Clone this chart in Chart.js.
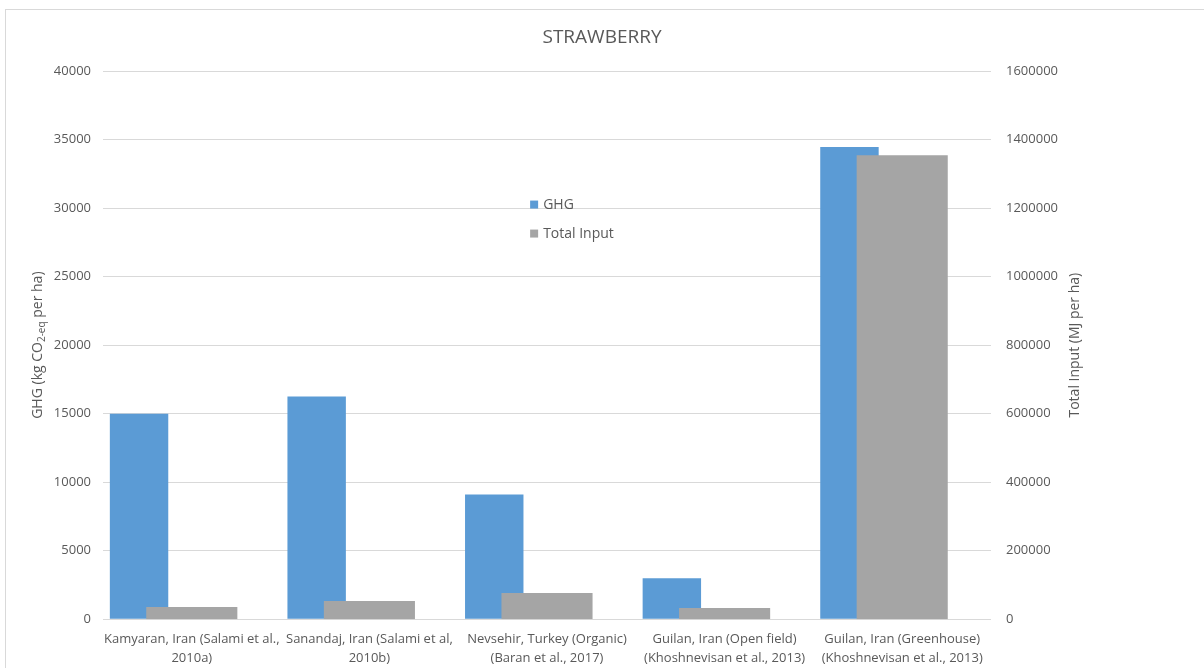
<!DOCTYPE html>
<html>
<head>
<meta charset="utf-8">
<title>Strawberry</title>
<script src="https://cdn.jsdelivr.net/npm/chart.js@4.4.1/dist/chart.umd.min.js"></script>
<style>
  html, body { margin: 0; padding: 0; background: #fff; overflow: hidden; }
  #wrap { position: relative; width: 1204px; height: 668px; }
  #frame {
    position: absolute; left: 5px; top: 9px; width: 1300px; height: 800px;
    border: 1px solid #d9d9d9; pointer-events: none;
  }
</style>
</head>
<body>
<div id="wrap">
  <canvas id="strawberryChart"></canvas>
  <div id="frame"></div>
</div>
<script>
const categories = [
  ['Kamyaran, Iran (Salami et al.,', '2010a)'],
  ['Sanandaj, Iran (Salami et al,', '2010b)'],
  ['Nevsehir, Turkey (Organic)', '(Baran et al., 2017)'],
  ['Guilan, Iran (Open field)', '(Khoshnevisan et al., 2013)'],
  ['Guilan, Iran (Greenhouse)', '(Khoshnevisan et al., 2013)'],
];
const ghg = [15000, 16250, 9100, 3000, 34450];            // kg CO2-eq per ha
const totalInput = [35800, 53300, 76600, 32900, 1354000]; // MJ per ha

const TEXT = '#595959';
const FONT = '"Open Sans", "Noto Sans", sans-serif';

// rotated axis title, parts = [text, size, baseline shift]
function drawRotated(ctx, x, y, parts) {
  ctx.save();
  ctx.translate(x, y);
  ctx.rotate(-Math.PI / 2);
  ctx.textBaseline = 'middle';
  ctx.textAlign = 'left';
  const widths = parts.map(([t, size]) => {
    ctx.font = size + 'px ' + FONT;
    return ctx.measureText(t).width;
  });
  let cx = -widths.reduce((a, b) => a + b, 0) / 2;
  parts.forEach(([t, size, dy], i) => {
    ctx.font = size + 'px ' + FONT;
    ctx.fillText(t, cx, dy);
    cx += widths[i];
  });
  ctx.restore();
}

const extras = {
  id: 'extras',
  afterDraw(chart) {
    const { ctx, chartArea: a } = chart;
    const midY = (a.top + a.bottom) / 2;
    ctx.save();
    ctx.fillStyle = TEXT;
    drawRotated(ctx, 38, midY, [['GHG (kg CO', 14, 0], ['2-eq', 10, 4], [' per ha)', 14, 0]]);
    drawRotated(ctx, 1075, midY, [['Total Input (MJ per ha)', 14, 0]]);

    // legend, stacked inside the plot
    const lx = a.left + a.width * 0.481;
    let ly = a.top + a.height * 0.2436;
    ctx.font = '14px ' + FONT;
    ctx.textBaseline = 'middle';
    ctx.textAlign = 'left';
    chart.data.datasets.forEach((ds) => {
      ctx.fillStyle = ds.backgroundColor;
      ctx.fillRect(lx, ly - 4, 8, 8);
      ctx.fillStyle = TEXT;
      ctx.fillText(ds.label, lx + 13, ly);
      ly += 29;
    });
    ctx.restore();
  },
};

const tickFont = { family: FONT, size: 13 };

new Chart(document.getElementById('strawberryChart'), {
  type: 'bar',
  data: {
    labels: categories,
    datasets: [
      {
        label: 'GHG',
        data: ghg.map((v, i) => ({ x: i, y: v })),
        backgroundColor: '#5b9bd5',
        xAxisID: 'xg',
        yAxisID: 'y',
        grouped: false,
        categoryPercentage: 0.329,
        barPercentage: 1,
        order: 1,
      },
      {
        label: 'Total Input',
        data: totalInput,
        backgroundColor: '#a5a5a5',
        xAxisID: 'x',
        yAxisID: 'y1',
        grouped: false,
        categoryPercentage: 1,
        barPercentage: 0.513,
        order: 0,
      },
    ],
  },
  options: {
    responsive: true,
    maintainAspectRatio: false,
    animation: false,
    layout: { padding: 0 },
    plugins: {
      legend: { display: false },
      tooltip: { enabled: false },
      title: {
        display: true,
        text: 'STRAWBERRY',
        color: TEXT,
        font: { family: FONT, size: 19, weight: 'normal' },
        padding: { top: 26, bottom: 22.2 },
      },
    },
    scales: {
      x: {
        type: 'category',
        offset: true,
        grid: { display: false },
        border: { display: false },
        ticks: {
          color: TEXT,
          font: { family: FONT, size: 13, lineHeight: 1.45 },
          maxRotation: 0,
          autoSkip: false,
          padding: 3,
        },
        afterFit: (s) => { s.height = 48.7; },
      },
      // GHG bars sit left of each category centre
      xg: {
        type: 'linear',
        display: false,
        offset: false,
        min: -0.203,
        max: 4.797,
        ticks: { count: 2 },
        grid: { display: false },
      },
      y: {
        position: 'left',
        min: 0,
        max: 40000,
        ticks: { stepSize: 5000, color: TEXT, font: tickFont, padding: 12, callback: (v) => v },
        grid: { color: '#d9d9d9', drawTicks: false },
        border: { display: false },
        afterFit: (s) => { s.width = 103; },
      },
      y1: {
        position: 'right',
        min: 0,
        max: 1600000,
        ticks: { stepSize: 200000, color: TEXT, font: tickFont, padding: 15, callback: (v) => v },
        grid: { display: false, drawTicks: false },
        border: { display: false },
        afterFit: (s) => { s.width = 213; },
      },
    },
  },
  plugins: [extras],
});
</script>
</body>
</html>
